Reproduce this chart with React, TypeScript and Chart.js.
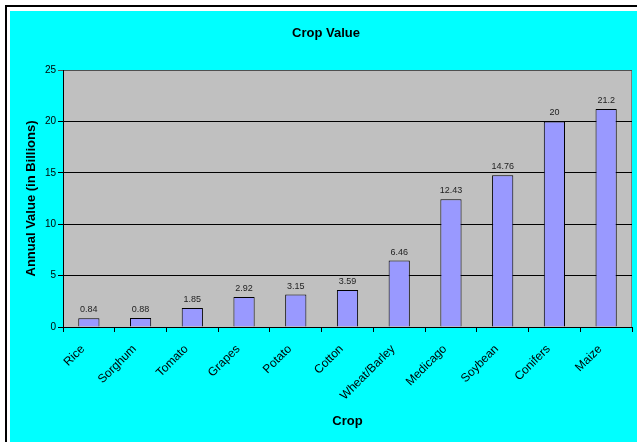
import React, { useEffect, useRef } from "react";
import { Chart, registerables } from "chart.js";

Chart.register(...registerables);

const categories = ["Rice", "Sorghum", "Tomato", "Grapes", "Potato", "Cotton", "Wheat/Barley", "Medicago", "Soybean", "Conifers", "Maize"];
const values = [0.84, 0.88, 1.85, 2.92, 3.15, 3.59, 6.46, 12.43, 14.76, 20, 21.2];
const valueLabels = ["0.84", "0.88", "1.85", "2.92", "3.15", "3.59", "6.46", "12.43", "14.76", "20", "21.2"];
const titleText = "Crop Value";
const yTitle = "Annual Value (in Billions)";
const xTitle = "Crop";

const FONT = "'Liberation Sans', Arial, sans-serif";

const decorPlugin = {
  id: "decor",
  beforeDraw(chart: any) {
    const { ctx, width, height, chartArea } = chart;
    ctx.save();
    ctx.fillStyle = "#ffffff";
    ctx.fillRect(0, 0, width, height);
    ctx.fillStyle = "#000000";
    ctx.fillRect(5, 5, width - 5, 2);
    ctx.fillRect(5, 5, 2, height - 5);
    ctx.fillStyle = "#00ffff";
    ctx.fillRect(10, 11, width - 10, height - 11);
    ctx.fillStyle = "#c0c0c0";
    ctx.fillRect(chartArea.left, chartArea.top, chartArea.right - chartArea.left, chartArea.bottom - chartArea.top);
    ctx.strokeStyle = "#808080";
    ctx.lineWidth = 1;
    ctx.strokeRect(chartArea.left + 0.5, chartArea.top + 0.5, chartArea.right - chartArea.left - 1, chartArea.bottom - chartArea.top);
    ctx.restore();
  },
  afterDraw(chart: any) {
    const { ctx, chartArea } = chart;
    ctx.save();
    ctx.fillStyle = "#000000";
    ctx.font = `bold 13px ${FONT}`;
    ctx.textAlign = "center";
    ctx.textBaseline = "middle";
    ctx.fillText(titleText, 326, 33);
    const cx = (chartArea.left + chartArea.right) / 2;
    ctx.fillText(xTitle, cx, 421);
    ctx.translate(31, (chartArea.top + chartArea.bottom) / 2);
    ctx.rotate(-Math.PI / 2);
    ctx.fillText(yTitle, 0, 0);
    ctx.restore();
  },
  afterDatasetsDraw(chart: any) {
    const { ctx } = chart;
    const meta = chart.getDatasetMeta(0);
    ctx.save();
    ctx.fillStyle = "#222222";
    ctx.font = `9px ${FONT}`;
    ctx.textAlign = "center";
    ctx.textBaseline = "bottom";
    meta.data.forEach((el: any, i: number) => {
      ctx.fillText(valueLabels[i], el.x, el.y - 4);
    });
    ctx.restore();
  },
};

export default function App() {
  const ref = useRef<HTMLCanvasElement>(null);
  useEffect(() => {
    if (!ref.current) return;
    const chart = new Chart(ref.current, {
      type: "bar",
      data: {
        labels: categories,
        datasets: [
          {
            data: values,
            backgroundColor: "#9999ff",
            borderColor: "#000000",
            borderWidth: 1,
            barPercentage: 0.41,
            categoryPercentage: 1,
          },
        ],
      },
      options: {
        animation: false,
        responsive: false,
        devicePixelRatio: 1,
        layout: { padding: { left: 0, top: 70, right: 5, bottom: 0 } },
        plugins: { legend: { display: false }, title: { display: false }, tooltip: { enabled: false } },
        scales: {
          x: {
            grid: { display: true, drawOnChartArea: false, drawTicks: true, tickLength: 5, color: "#000000", offset: true },
            border: { display: true, color: "#000000", width: 1 },
            ticks: { color: "#000000", font: { family: FONT, size: 12 }, minRotation: 45, maxRotation: 45, autoSkip: false, padding: 10, labelOffset: -6 },
            afterFit: (s: any) => { s.height = 115; },
          },
          y: {
            min: 0,
            max: 25,
            ticks: { stepSize: 5, color: "#000000", font: { family: FONT, size: 10 }, padding: 2 },
            grid: {
              color: (c: any) => (c.tick && c.tick.value === 25 ? "#505050" : "#000000"),
              tickLength: 5,
              drawTicks: true,
            },
            border: { display: true, color: "#000000", width: 1 },
            afterFit: (s: any) => { s.width = 63; },
          },
        },
      },
      plugins: [decorPlugin],
    });
    return () => chart.destroy();
  }, []);
  return (
    <div style={{ position: "absolute", left: 0, top: 0, width: 637, height: 442 }}>
      <canvas ref={ref} width={637} height={442} style={{ width: 637, height: 442, display: "block" }} />
    </div>
  );
}
